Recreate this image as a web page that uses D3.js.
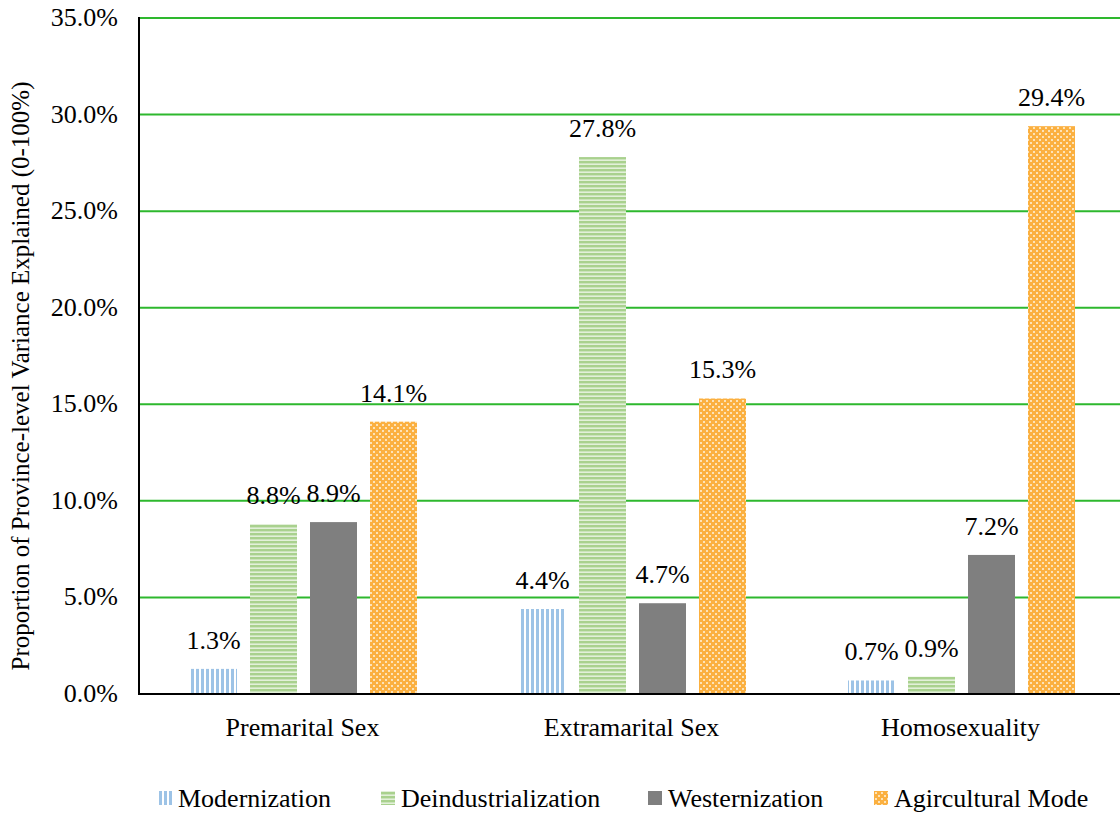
<!DOCTYPE html>
<html>
<head>
<meta charset="utf-8">
<script src="https://cdn.jsdelivr.net/npm/d3@7"></script>
<style>
  body { margin: 0; background: #fff; }
  text { font-family: "Liberation Serif", "Times New Roman", serif; fill: #000; }
</style>
</head>
<body>
<svg></svg>
<script>
var width = 1120,
    height = 814;

// data
var categories = ["Premarital Sex", "Extramarital Sex", "Homosexuality"];
var seriesNames = ["Modernization", "Deindustrialization", "Westernization", "Agircultural Mode"];
var modernization = [1.3, 4.4, 0.7];
var deindustrialization = [8.8, 27.8, 0.9];
var westernization = [8.9, 4.7, 7.2];
var agricultural = [14.1, 15.3, 29.4];
var yTicks = [0, 5, 10, 15, 20, 25, 30, 35];

var seriesValues = [modernization, deindustrialization, westernization, agricultural];
var fills = ["url(#pMod)", "url(#pDein)", "#7f7f7f", "url(#pAgri)"];

var svg = d3.select("svg")
    .attr("width", width)
    .attr("height", height);

var defs = svg.append("defs");

// vertical blue stripes
var pm = defs.append("pattern").attr("id", "pMod")
    .attr("patternUnits", "userSpaceOnUse").attr("width", 5).attr("height", 5);
pm.append("rect").attr("width", 5).attr("height", 5).attr("fill", "#ffffff");
pm.append("rect").attr("x", 1).attr("width", 3).attr("height", 5).attr("fill", "#9dc3e6");

// horizontal green stripes
var pd = defs.append("pattern").attr("id", "pDein")
    .attr("patternUnits", "userSpaceOnUse").attr("width", 5).attr("height", 4);
pd.append("rect").attr("width", 5).attr("height", 4).attr("fill", "#e2f0d9");
pd.append("rect").attr("y", 1).attr("width", 5).attr("height", 2.4).attr("fill", "#a9d18e");

// orange checker
var pa = defs.append("pattern").attr("id", "pAgri")
    .attr("patternUnits", "userSpaceOnUse").attr("width", 6).attr("height", 6);
pa.append("rect").attr("width", 6).attr("height", 6).attr("fill", "#fbb040");
pa.append("rect").attr("x", 1).attr("y", 1).attr("width", 2).attr("height", 2).attr("fill", "#fde3b8");
pa.append("rect").attr("x", 4).attr("y", 4).attr("width", 2).attr("height", 2).attr("fill", "#fde3b8");

var plotLeft = 139, plotTop = 18, plotBottom = 694;

var x = d3.scaleBand()
    .domain(categories)
    .range([plotLeft, plotLeft + 3 * 329]);

// bars 47px wide, 13px apart
var x1 = d3.scaleBand()
    .domain(seriesNames)
    .range([51, 51 + 227])
    .paddingInner(13 / 60);

var y = d3.scaleLinear()
    .domain([0, 35])
    .range([plotBottom, plotTop]);

// gridlines
svg.append("g")
    .selectAll("line")
    .data(yTicks.filter(d => d > 0))
    .join("line")
    .attr("x1", plotLeft).attr("x2", width)
    .attr("y1", d => y(d)).attr("y2", d => y(d))
    .attr("stroke", "#2eb82e").attr("stroke-width", 2);

// y tick labels
svg.append("g")
    .selectAll("text")
    .data(yTicks)
    .join("text")
    .attr("x", 118)
    .attr("y", d => y(d) + 8)
    .attr("text-anchor", "end")
    .attr("font-size", 26)
    .text(d => d.toFixed(1) + "%");

// bars
var groups = svg.append("g")
    .selectAll("g")
    .data(seriesValues)
    .join("g")
    .attr("fill", (d, i) => fills[i]);

groups.selectAll("rect")
    .data((d, i) => d.map((v, j) => ({ v: v, cat: categories[j], s: seriesNames[i] })))
    .join("rect")
    .attr("x", d => x(d.cat) + x1(d.s))
    .attr("width", x1.bandwidth())
    .attr("y", d => y(d.v))
    .attr("height", d => plotBottom - y(d.v));

// value labels
groups.selectAll("text")
    .data((d, i) => d.map((v, j) => ({ v: v, cat: categories[j], s: seriesNames[i] })))
    .join("text")
    .attr("x", d => x(d.cat) + x1(d.s) + x1.bandwidth() / 2)
    .attr("y", d => y(d.v) - 20)
    .attr("text-anchor", "middle")
    .attr("font-size", 26)
    .style("fill", "#000")
    .text(d => d.v.toFixed(1) + "%");

// axes lines
svg.append("line")
    .attr("x1", plotLeft).attr("x2", plotLeft)
    .attr("y1", plotTop - 1).attr("y2", plotBottom)
    .attr("stroke", "#000").attr("stroke-width", 2);
svg.append("line")
    .attr("x1", plotLeft - 1).attr("x2", width)
    .attr("y1", plotBottom).attr("y2", plotBottom)
    .attr("stroke", "#000").attr("stroke-width", 2);

// category labels
svg.append("g")
    .selectAll("text")
    .data(categories)
    .join("text")
    .attr("x", d => x(d) + x.bandwidth() / 2 - 1)
    .attr("y", 736)
    .attr("text-anchor", "middle")
    .attr("font-size", 26)
    .text(d => d);

// y axis title
svg.append("text")
    .attr("transform", "translate(29,376) rotate(-90)")
    .attr("text-anchor", "middle")
    .attr("font-size", 25)
    .text("Proportion of Province-level Variance Explained (0-100%)");

// legend
var legendX = [158, 381, 648, 874];
var legend = svg.append("g")
    .selectAll("g")
    .data(seriesNames)
    .join("g")
    .attr("transform", (d, i) => "translate(" + legendX[i] + ",791)");

legend.append("rect")
    .attr("width", 14).attr("height", 14)
    .attr("fill", (d, i) => fills[i]);

legend.append("text")
    .attr("x", 20)
    .attr("y", 16)
    .attr("font-size", 26)
    .text(d => d);
</script>
</body>
</html>
